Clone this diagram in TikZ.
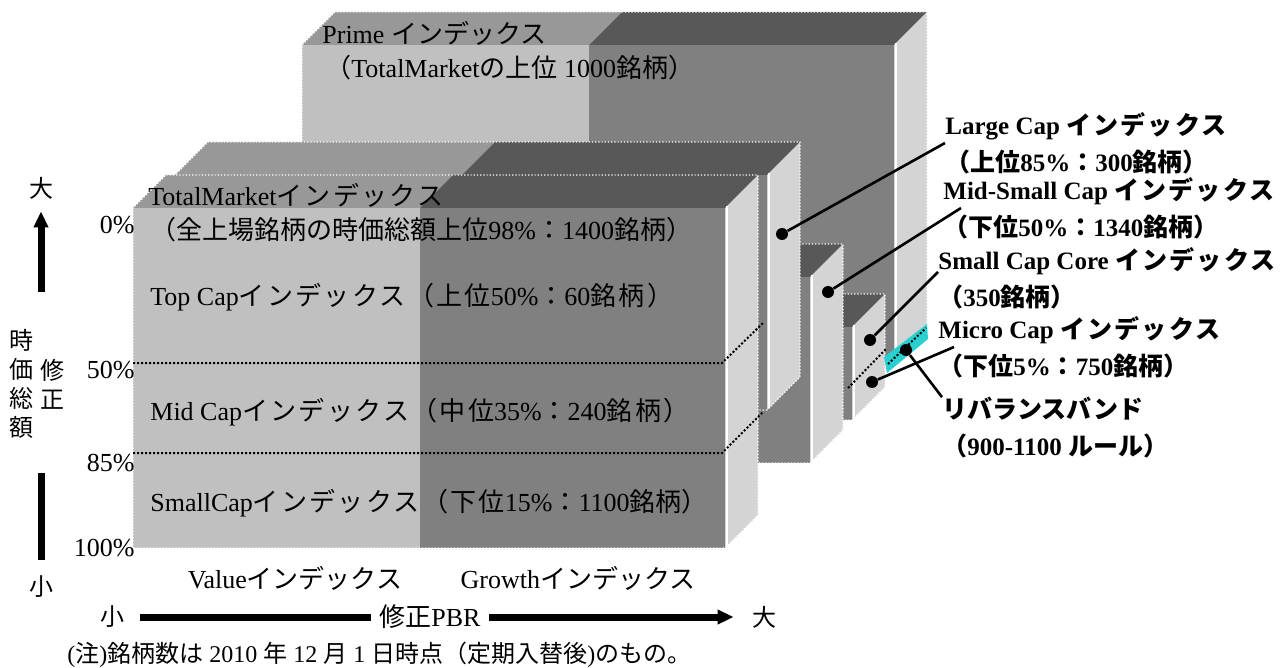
\documentclass[tikz,border=0pt]{standalone}
\usepackage{fontspec}
\setmainfont{Liberation Serif}
\newfontfamily\jpfont{Noto Sans CJK JP}
\newfontfamily\jpwide{Noto Sans CJK JP}[LetterSpace=9]
\newcommand{\jp}[1]{{\jpfont #1}}
\newcommand{\jw}[1]{{\jpwide #1}}
\usetikzlibrary{arrows.meta}
\definecolor{valgray}{RGB}{192,192,192}
\definecolor{growgray}{RGB}{128,128,128}
\definecolor{valtop}{RGB}{152,152,152}
\definecolor{growtop}{RGB}{88,88,88}
\definecolor{sidegray}{RGB}{212,212,212}
\definecolor{bandcyan}{RGB}{40,208,208}

\begin{document}
\begin{tikzpicture}[x=0.5pt, y=-0.5pt, >={Triangle[length=8pt,width=7pt]},
                    every node/.style={inner sep=0pt, font=\fontsize{13}{15}\selectfont},
                    rim/.style={draw=white, densely dotted, line width=0.6pt},
                    shine/.style={draw=white, line width=0.9pt},
                    divider/.style={draw=black, densely dotted, line width=1pt},
                    leader/.style={draw=black, line width=1.3pt},
                    dot/.style={circle, fill=black, minimum size=6pt},
                    axis/.style={draw=black, line width=3.5pt},
                    lbl/.style={anchor=west, align=left, font=\bfseries\fontsize{12.5}{18.5}\selectfont},
                    pct/.style={anchor=east}]
\useasboundingbox (0,0) rectangle (1280,668);

\foreach \l/\t/\b in {302/45/358, 260/327/420, 218/277/463, 175/175/410, 133/208/548} {
  \fill[valtop] (\l,\t) -- ++(33,-33) -- ++(287,0) -- ++(-33,33) -- cycle;
  \fill[growtop] (\l+287,\t) -- ++(33,-33) -- ++(305,0) -- ++(-33,33) -- cycle;
  \fill[valgray] (\l,\t) rectangle (\l+287,\b);
  \fill[growgray] (\l+287,\t) rectangle (\l+592,\b);
  \fill[sidegray] (\l+592,\t) -- ++(33,-33) -- (\l+625,\b-33) -- (\l+592,\b) -- cycle;
  \draw[shine] (\l+594,\t-2) -- (\l+594,\b-2);
  \draw[rim] (\l,\b) -- (\l,\t) -- ++(33,-33) -- (\l+625,\t-33) -- (\l+625,\b-33) -- (\l+592,\b) -- cycle;
}
\fill[bandcyan] (884,357) -- (927,324) -- (928,339) -- (887,373) -- cycle;
\draw[divider] (888,364) -- (926,328);
\draw[divider] (848,388) -- (887,348);
\draw[divider] (133,363) -- (722,363) -- (763,323);
\draw[divider] (133,453) -- (722,453) -- (763,412);

\node[anchor=west] (pn) at (322,33) {Prime \jp{インデックス}};
\node[anchor=west] (pd) at (325,68) {\jp{（}TotalMarket\jp{の上位} 1000\jp{銘柄）}};
\node[anchor=west] (tn) at (148,195) {TotalMarket\jw{インデックス}};
\node[anchor=west] (td) at (150,230) {\jp{（全上場銘柄の時価総額上位}98\%\jp{：}1400\jp{銘柄）}};
\node[anchor=west] (tc) at (150,297) {Top Cap\jw{インデックス（上位}50\%\jw{：}60\jw{銘柄）}};
\node[anchor=west] (mc) at (150,412) {Mid Cap\jw{インデックス（中位}35\%\jw{：}240\jw{銘柄）}};
\node[anchor=west] (sc) at (150,503) {SmallCap\jw{インデックス（下位}15\%\jp{：}1100\jp{銘柄）}};

\node[pct] (p0) at (135,225) {0\%};
\node[pct] (p50) at (135,370) {50\%};
\node[pct] (p85) at (135,463) {85\%};
\node[pct] (p100) at (135,548) {100\%};

\node (vi) at (295,578) {Value\jp{インデックス}};
\node (gi) at (578,578) {Growth\jp{インデックス}};

\node[lbl] (tL) at (945,143) {Large Cap \jw{インデックス}\\\jp{（上位}85\%\jp{：}300\jp{銘柄）}};
\node[lbl] (tM) at (943,208) {Mid-Small Cap \jw{インデックス}\\\jp{（下位}50\%\jp{：}1340\jp{銘柄）}};
\node[lbl] (tS) at (938,278) {Small Cap Core \jw{インデックス}\\\jp{（}350\jp{銘柄）}};
\node[lbl] (tMi) at (938,347) {Micro Cap \jw{インデックス}\\\jp{（下位}5\%\jp{：}750\jp{銘柄）}};
\node[lbl] (tR) at (942,428) {\jp{リバランスバンド}\\\jp{（}900-1100 \jp{ルール）}};

\node[dot] (dL) at (782,234) {};
\node[dot] (dM) at (828,292) {};
\node[dot] (dS) at (870,340) {};
\node[dot] (dMi) at (872,382) {};
\node[dot] (dR) at (906,350) {};
\draw[leader] (dL) -- (tL.west);
\draw[leader] (dM) -- ([xshift=9pt]tM.west);
\draw[leader] (dS) -- ([yshift=3pt]tS.west);
\draw[leader] (dMi) -- ([xshift=8pt]tMi.west);
\draw[leader] (dR) -- (tR.north west);

\node[font=\jpfont\fontsize{12}{14.5}\selectfont] (vBig) at (41,188) {大};
\node[font=\jpfont\fontsize{12}{14.5}\selectfont] (vSmall) at (41,587) {小};
\node[align=center, font=\jpfont\fontsize{12}{14.5}\selectfont] (vt1) at (22,384) {時\\価\\総\\額};
\node[align=center, font=\jpfont\fontsize{12}{14.5}\selectfont] (vt2) at (52,384) {修\\正};
\coordinate (vTop) at (41,292);
\coordinate (vLow) at (41,473);
\draw[axis, ->] (vTop) -- ([yshift=-6pt]vBig.south);
\draw[axis] (vLow) -- ([yshift=8pt]vSmall.north);

\node[font=\jpfont\fontsize{12}{14.5}\selectfont] (hSmall) at (112,617) {小};
\node[font=\jpfont\fontsize{12}{14.5}\selectfont] (hBig) at (764,617) {大};
\draw[axis, ->] ([xshift=8pt]hSmall.east) -- ([xshift=-9pt]hBig.west);
\node[fill=white, inner xsep=4pt, inner ysep=2pt] (pbr) at (430,617) {\jp{修正}PBR};

\node[anchor=west, font=\fontsize{12}{14}\selectfont] (note) at (67,655) {(\jp{注})\jp{銘柄数は} 2010 \jp{年} 12 \jp{月} 1 \jp{日時点（定期入替後})\jp{のもの。}};
\end{tikzpicture}
\end{document}
